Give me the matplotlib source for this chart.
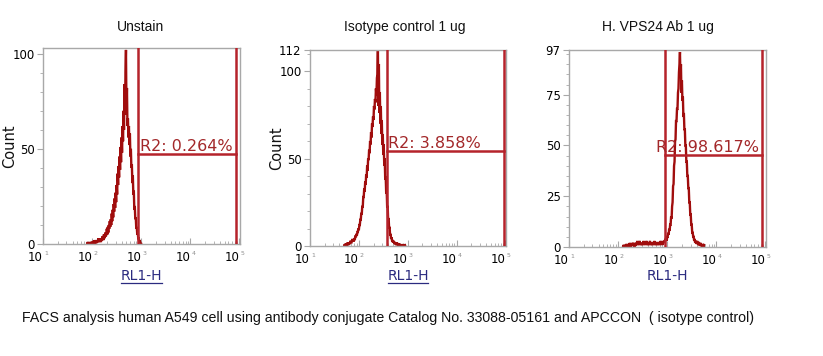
import numpy as np
import matplotlib
matplotlib.use("Agg")
import matplotlib.pyplot as plt
from matplotlib.lines import Line2D

# ---------------- data ----------------
titles = ["Unstain", "Isotype control 1 ug", "H. VPS24 Ab 1 ug"]
gate_labels = ["R2: 0.264%", "R2: 3.858%", "R2: 98.617%"]
xlabel = "RL1-H"
ylabel = "Count"
caption = "FACS analysis human A549 cell using antibody conjugate Catalog No. 33088-05161 and APCCON  ( isotype control)"

# histogram bins (log10 of RL1-H), step 0.01
h1_start, h1_step = 1.90, 0.01
h1_counts = [0, 1, 0, 0, 1, 0, 0, 1, 0, 1,
             0, 1, 1, 0, 2, 1, 0, 1, 2, 1,
             1, 2, 1, 3, 1, 2, 3, 2, 1, 3,
             2, 4, 3, 2, 5, 3, 4, 6, 4, 5,
             8, 5, 9, 6, 10, 8, 12, 9, 13, 10,
             16, 12, 18, 14, 21, 17, 24, 19, 27, 22,
             31, 26, 37, 31, 41, 35, 46, 39, 51, 43,
             56, 48, 62, 54, 70, 60, 84, 68, 90, 102,
             70, 82, 62, 66, 56, 62, 52, 58, 46, 50,
             40, 42, 32, 36, 26, 28, 18, 20, 13, 14,
             8, 9, 5, 6, 3, 3, 1, 2, 1, 0,
             0]

h2_start, h2_step = 1.70, 0.01
h2_counts = [0, 1, 0, 1, 1, 0, 1, 2, 1, 1,
             2, 1, 2, 3, 2, 2, 3, 4, 3, 3,
             3, 4, 4, 6, 5, 7, 6, 8, 8, 10,
             9, 12, 12, 15, 15, 19, 18, 23, 22, 28,
             28, 33, 31, 37, 35, 41, 39, 46, 43, 50,
             49, 55, 53, 60, 58, 65, 62, 70, 68, 74,
             72, 80, 78, 84, 82, 90, 86, 96, 98, 112,
             80, 104, 76, 88, 70, 80, 64, 72, 58, 64,
             52, 58, 46, 50, 38, 40, 30, 32, 22, 23,
             15, 16, 10, 11, 6, 7, 4, 5, 3, 3,
             2, 3, 2, 2, 1, 2, 1, 1, 2, 1,
             1, 0, 1, 1, 0, 1, 0, 0, 1, 0,
             0, 1, 0, 0, 1, 0]

h3_start, h3_step = 2.10, 0.01
h3_counts = [0, 1, 0, 1, 0, 0, 1, 1, 0, 1,
             1, 0, 1, 1, 2, 1, 0, 1, 1, 2,
             1, 2, 1, 0, 2, 1, 1, 2, 1, 3,
             1, 2, 1, 2, 3, 1, 2, 1, 2, 1,
             2, 1, 3, 1, 2, 2, 1, 2, 3, 1,
             2, 1, 2, 1, 2, 3, 1, 2, 1, 2,
             1, 2, 2, 1, 3, 1, 2, 1, 2, 2,
             1, 2, 1, 2, 2, 1, 2, 3, 1, 2,
             2, 1, 3, 2, 3, 2, 4, 3, 5, 3,
             5, 5, 7, 6, 9, 8, 11, 11, 15, 14,
             20, 22, 30, 31, 40, 42, 52, 53, 62, 62,
             68, 68, 76, 78, 86, 90, 96, 84, 90, 76,
             82, 72, 74, 64, 66, 58, 58, 50, 50, 42,
             42, 35, 35, 29, 29, 22, 22, 16, 16, 11,
             11, 7, 7, 5, 5, 3, 4, 2, 3, 2,
             2, 3, 2, 1, 2, 2, 1, 1, 2, 1,
             1, 0, 1, 1, 0, 1]

gate_left = [870, 370, 890]
gate_right = [87000, 95000, 87000]
gate_level = [47.5, 54.3, 45.3]

ymax = [103, 112, 97]
yticks = [[0, 50, 100], [0, 50, 100, 112], [0, 25, 50, 75, 97]]
yminor = [10, 10, 5]
xtick_exps = [1, 2, 3, 4, 5]

hists = [(h1_start, h1_step, h1_counts),
         (h2_start, h2_step, h2_counts),
         (h3_start, h3_step, h3_counts)]

# ---------------- layout (pixels) ----------------
W, H = 823, 356
boxes = [(43, 48, 240, 244), (310, 50, 506, 246), (569, 50, 766, 247)]
title_cx = [141, 405, 658]
text_dx = [1, 1, -6.5]
underline = [True, True, False]

fig = plt.figure(figsize=(W / 100, H / 100), dpi=100)
fig.patch.set_facecolor("white")

hist_color = "#a00d0d"
gate_color = "#b5232b"
label_color = "#a3282a"
spine_color = "#a8a8a8"

for i in range(3):
    l, t, r, b = boxes[i]
    ax = fig.add_axes([l / W, 1 - b / H, (r - l) / W, (b - t) / H])
    start, step, counts = hists[i]
    counts = np.asarray(counts, dtype=float)
    xs = 10 ** (start + step * np.arange(len(counts)))
    ax.plot(xs, counts, color=hist_color, lw=1.7, solid_joinstyle="miter")

    ax.set_xscale("log")
    ax.set_xlim(1e1, 1e5 * 1.03)
    ax.set_ylim(0, ymax[i])

    # gate
    ax.plot([gate_left[i], gate_left[i]], [0, ymax[i]], color=gate_color, lw=1.8, zorder=3)
    ax.plot([gate_right[i], gate_right[i]], [0, ymax[i]], color=gate_color, lw=1.8, zorder=3)
    ax.plot([gate_left[i], gate_right[i]], [gate_level[i], gate_level[i]], color=gate_color, lw=1.8, zorder=3)
    ax.annotate(gate_labels[i], xy=(gate_left[i], gate_level[i]), xytext=(text_dx[i], 0),
                textcoords="offset points", ha="left", va="bottom",
                fontsize=11.5, color=label_color, family="DejaVu Sans", zorder=4)

    for s in ax.spines.values():
        s.set_color(spine_color)
        s.set_linewidth(1.0)

    xt = [10.0 ** e for e in xtick_exps]
    ax.set_xticks(xt)
    ax.set_xticklabels(["10"] * len(xt))
    for lab in ax.get_xticklabels():
        lab.set_horizontalalignment("right")
    for e in xtick_exps:
        ax.annotate(str(e), xy=(10.0 ** e, 0), xycoords=("data", "axes fraction"),
                    xytext=(0.8, -6.5), textcoords="offset points", ha="left", va="center",
                    fontsize=4.5, color="#909090", family="DejaVu Sans")
    ax.xaxis.set_minor_locator(matplotlib.ticker.LogLocator(base=10, subs=np.arange(2, 10)))
    ax.xaxis.set_minor_formatter(matplotlib.ticker.NullFormatter())
    ax.tick_params(axis="x", which="major", direction="in", length=4, color=spine_color,
                   labelsize=8.5, pad=5)
    ax.tick_params(axis="x", which="minor", direction="in", length=2, color=spine_color)
    ax.set_yticks(yticks[i])
    ax.yaxis.set_minor_locator(matplotlib.ticker.MultipleLocator(yminor[i]))
    ax.tick_params(axis="y", which="major", direction="out", length=4, color=spine_color,
                   labelsize=8.5, pad=2)
    ax.tick_params(axis="y", which="minor", direction="out", length=2, color=spine_color)
    for lab in ax.get_xticklabels() + ax.get_yticklabels():
        lab.set_family("DejaVu Sans")

    cx = (l + r) / 2
    fig.text(title_cx[i] / W, 1 - 27 / H, titles[i], ha="center", va="center",
             fontsize=10, family="Liberation Sans", color="#111111")
    fig.text(cx / W, 1 - 276 / H, xlabel, ha="center", va="center",
             fontsize=10, family="DejaVu Sans", color="#2b2b80")
    if underline[i]:
        fig.add_artist(Line2D([(cx - 20) / W, (cx + 20) / W], [1 - 283 / H, 1 - 283 / H],
                              color="#2b2b80", lw=0.9))
    if i < 2:
        fig.text((l - 33) / W, 1 - ((t + b) / 2) / H, ylabel, rotation=90,
                 ha="center", va="center", fontsize=10.5, family="DejaVu Sans", color="#111111")

fig.text(22 / W, 1 - 318 / H, caption, ha="left", va="center",
         fontsize=10.2, family="Liberation Sans", color="#111111")

fig.savefig("out.png", dpi=100, facecolor="white")
